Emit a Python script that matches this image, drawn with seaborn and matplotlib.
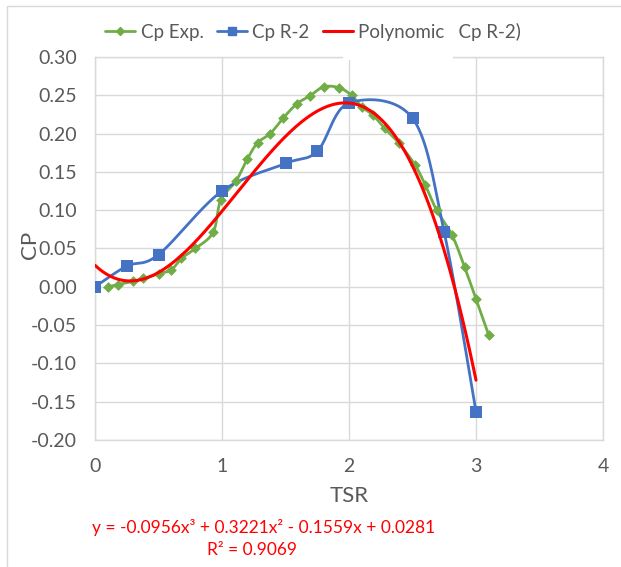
import numpy as np
import pandas as pd
import matplotlib.pyplot as plt
import seaborn as sns
from matplotlib.lines import Line2D
from matplotlib.patches import Rectangle

# Cp Exp. (green, measured)
exp_tsr = [0.10, 0.18, 0.30, 0.38, 0.50, 0.60, 0.68, 0.79, 0.93, 0.99, 1.11, 1.20, 1.28,
           1.38, 1.48, 1.59, 1.69, 1.80, 1.92, 2.02, 2.10, 2.19, 2.28, 2.39, 2.52, 2.60,
           2.69, 2.81, 2.91, 3.00, 3.10]
exp_cp = [0.000, 0.003, 0.007, 0.011, 0.017, 0.022, 0.037, 0.050, 0.071, 0.113, 0.138, 0.167,
          0.188, 0.200, 0.220, 0.239, 0.249, 0.261, 0.260, 0.250, 0.235, 0.224, 0.207, 0.188,
          0.159, 0.133, 0.100, 0.068, 0.026, -0.016, -0.063]

# Cp R-2 (blue, simulated)
r2_tsr = [0.0, 0.25, 0.5, 1.0, 1.5, 1.75, 2.0, 2.5, 2.75, 3.0]
r2_cp = [0.000, 0.027, 0.042, 0.125, 0.161, 0.177, 0.240, 0.220, 0.071, -0.163]

# polynomial trendline of Cp R-2
poly_coef = [-0.0956, 0.3221, -0.1559, 0.0281]
poly_range = [0.0, 3.0]

y_ticks = [-0.20, -0.15, -0.10, -0.05, 0.00, 0.05, 0.10, 0.15, 0.20, 0.25, 0.30]
x_ticks = [0, 1, 2, 3, 4]

GREEN = "#70AD47"
BLUE = "#4472C4"
RED = "#FF0000"
GRAY = "#595959"
GRID = "#D9D9D9"


def smooth(x, y, n=30):
    # Excel-style smoothed line (cubic bezier, catmull-rom control points)
    p = np.column_stack([x, y]).astype(float)
    out = [p[0]]
    for i in range(len(p) - 1):
        p0 = p[i - 1] if i > 0 else p[i]
        p1, p2 = p[i], p[i + 1]
        p3 = p[i + 2] if i + 2 < len(p) else p[i + 1]
        c1 = p1 + (p2 - p0) / 6
        c2 = p2 - (p3 - p1) / 6
        t = np.linspace(0, 1, n)[1:, None]
        seg = ((1 - t) ** 3) * p1 + 3 * ((1 - t) ** 2) * t * c1 + 3 * (1 - t) * t ** 2 * c2 + t ** 3 * p2
        out.extend(seg)
    out = np.array(out)
    return out[:, 0], out[:, 1]


sns.set_style("white")
plt.rcParams["font.family"] = ["Lato", "DejaVu Sans"]

fig = plt.figure(figsize=(6.21, 5.67), dpi=100)
ax = fig.add_axes([95 / 621, 1 - 440 / 567, 508 / 621, 383 / 567])

# smoothed series lines
gx, gy = smooth(exp_tsr, exp_cp)
sns.lineplot(x=gx, y=gy, sort=False, color=GREEN, lw=2, ax=ax, zorder=3)
bx, by = smooth(r2_tsr, r2_cp)
sns.lineplot(x=bx, y=by, sort=False, color=BLUE, lw=2, ax=ax, zorder=3)

# markers
sns.scatterplot(x=exp_tsr, y=exp_cp, marker="D", s=30, color=GREEN, edgecolor=GREEN,
                linewidth=0, ax=ax, zorder=4)
sns.scatterplot(x=r2_tsr, y=r2_cp, marker="s", s=75, color=BLUE, edgecolor=BLUE,
                linewidth=0, ax=ax, zorder=5)

# polynomial trendline
px = np.linspace(poly_range[0], poly_range[1], 200)
py = np.polyval(poly_coef, px)
sns.lineplot(x=px, y=py, color=RED, lw=2.2, ax=ax, zorder=6)

ax.set_xlim(0, 4)
ax.set_ylim(-0.2, 0.3)
ax.set_xticks(x_ticks)
ax.set_yticks(y_ticks)
ax.set_yticklabels([f"{v:.2f}" for v in y_ticks])
ax.grid(True, color=GRID, lw=1)
ax.set_axisbelow(True)
for s in ax.spines.values():
    s.set_color(GRID)
    s.set_linewidth(1)
ax.tick_params(length=0, labelsize=14, labelcolor=GRAY)
ax.tick_params(axis="y", pad=13)
ax.tick_params(axis="x", pad=13)
ax.set_xlabel("TSR", fontsize=16, color=GRAY, labelpad=8)
fig.text(30 / 621, 1 - 245 / 567, "CP", fontsize=16, color=GRAY, rotation=90,
         ha="center", va="center")

# white patch where legend breaks the top gridline
ax.add_patch(Rectangle((1.95, 0.296), 0.87, 0.01, facecolor="white", edgecolor="none",
                       clip_on=False, zorder=2.6))

handles = [
    Line2D([], [], color=GREEN, lw=2, marker="D", markersize=4),
    Line2D([], [], color=BLUE, lw=2, marker="s", markersize=6),
    Line2D([], [], color=RED, lw=2.2),
]
labels = ["Cp Exp.", "Cp R-2", "Polynomic   Cp R-2)"]
fig.legend(handles, labels, loc="center", bbox_to_anchor=(313 / 621, 1 - 32 / 567), ncol=3,
           frameon=False, fontsize=13.5, handlelength=1.6, handletextpad=0.3,
           columnspacing=0.7, labelcolor=GRAY)

fig.text(264 / 621, 1 - 527 / 567, "y = -0.0956x³ + 0.3221x² - 0.1559x + 0.0281",
         color=RED, fontsize=12.5, ha="center", va="center")
fig.text(252 / 621, 1 - 550 / 567, "R² = 0.9069", color=RED, fontsize=12.5,
         ha="center", va="center")

# outer chart border (cropped on right/bottom)
fig.patches.append(Rectangle((7 / 621, -0.1), 1.2, 1 - 6 / 567 + 0.1, transform=fig.transFigure,
                             facecolor="none", edgecolor=GRID, lw=1))

fig.savefig("out.png", dpi=100)
